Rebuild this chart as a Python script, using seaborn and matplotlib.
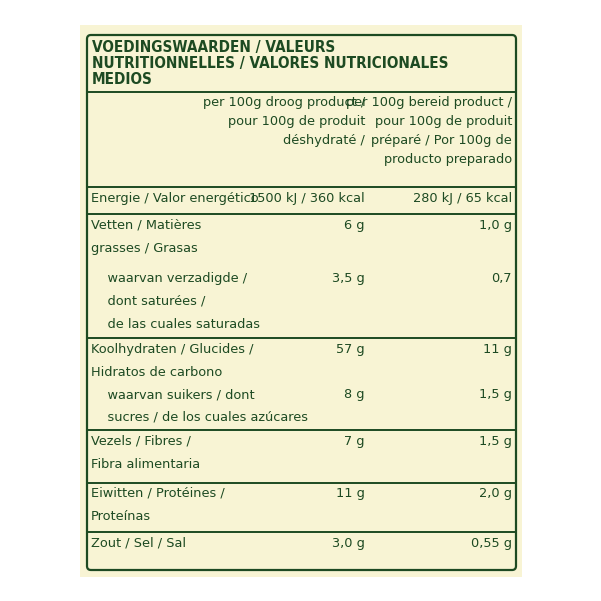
import seaborn as sns
import matplotlib.pyplot as plt
from matplotlib import font_manager
from matplotlib.patches import FancyBboxPatch, Rectangle

# table content
title_lines = ["VOEDINGSWAARDEN / VALEURS", "NUTRITIONNELLES / VALORES NUTRICIONALES", "MEDIOS"]
col1_header = ["per 100g droog product /", "pour 100g de produit", "déshydraté /"]
col2_header = ["per 100g bereid product /", "pour 100g de produit", "préparé / Por 100g de", "producto preparado"]
row_labels = [
    ["Energie / Valor energético"],
    ["Vetten / Matières", "grasses / Grasas"],
    ["    waarvan verzadigde /", "    dont saturées /", "    de las cuales saturadas"],
    ["Koolhydraten / Glucides /", "Hidratos de carbono"],
    ["    waarvan suikers / dont", "    sucres / de los cuales azúcares"],
    ["Vezels / Fibres /", "Fibra alimentaria"],
    ["Eiwitten / Protéines /", "Proteínas"],
    ["Zout / Sel / Sal"],
]
dry_values = ["1500 kJ / 360 kcal", "6 g", "3,5 g", "57 g", "8 g", "7 g", "11 g", "3,0 g"]
prepared_values = ["280 kJ / 65 kcal", "1,0 g", "0,7", "11 g", "1,5 g", "1,5 g", "2,0 g", "0,55 g"]
row_tops = [192, 219, 272, 343, 388, 435, 487, 537]
separators = [92, 187, 214, 338, 430, 483, 532]

green = "#1d4a22"
cream = "#f8f4d4"

sns.set_theme(style="white")
names = font_manager.get_font_names()
if "Liberation Sans Narrow" in names:
    body_family, body_size = "Liberation Sans Narrow", 11.5
else:
    body_family, body_size = "DejaVu Sans", 9.3
plt.rcParams['font.family'] = [body_family, 'DejaVu Sans']

fig = plt.figure(figsize=(6.01, 6.01), dpi=100)
ax = fig.add_axes([0, 0, 1, 1])
ax.set_xlim(0, 601)
ax.set_ylim(601, 0)
ax.axis("off")
fig.patch.set_facecolor("white")

ax.add_patch(Rectangle((80, 25), 442, 552, facecolor=cream, edgecolor="none"))
ax.add_patch(FancyBboxPatch((87, 35), 429, 535, boxstyle="round,pad=0,rounding_size=4",
                            facecolor="none", edgecolor=green, linewidth=1.6))
for y in separators:
    ax.plot([87, 516], [y, y], color=green, linewidth=1.4)

kw = dict(color=green, va="top")
for i, t in enumerate(title_lines):
    ax.text(92, 40 + i * 16, t, fontsize=11, fontweight="bold", fontstretch="condensed",
            family="DejaVu Sans", **kw)
for i, t in enumerate(col1_header):
    ax.text(365, 96 + i * 19, t, fontsize=body_size, ha="right", **kw)
for i, t in enumerate(col2_header):
    ax.text(512, 96 + i * 19, t, fontsize=body_size, ha="right", **kw)
for top, lines, dv, pv in zip(row_tops, row_labels, dry_values, prepared_values):
    for j, t in enumerate(lines):
        ax.text(91, top + j * 23, t, fontsize=body_size, **kw)
    ax.text(365, top, dv, fontsize=body_size, ha="right", **kw)
    ax.text(512, top, pv, fontsize=body_size, ha="right", **kw)

fig.savefig("out.png", dpi=100)
